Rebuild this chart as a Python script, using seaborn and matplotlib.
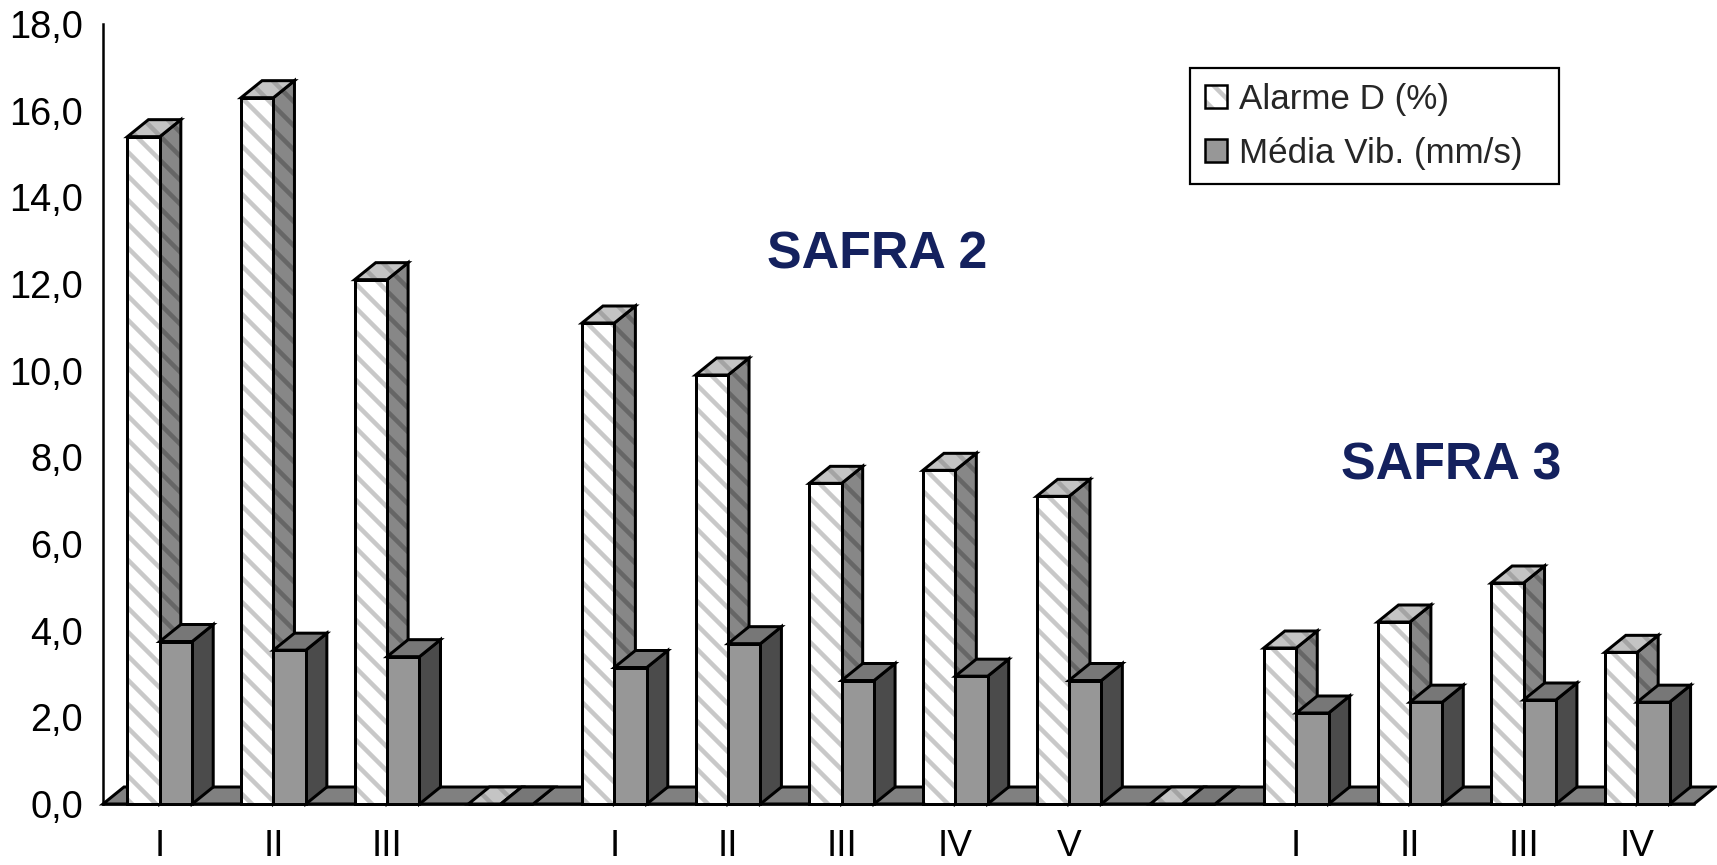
import matplotlib
matplotlib.use("Agg")
import matplotlib.pyplot as plt
from matplotlib.patches import Polygon, Patch
from matplotlib.legend_handler import HandlerTuple
from matplotlib.ticker import FixedLocator, FuncFormatter
import numpy as np
import pandas as pd
import seaborn as sns

# ---- data -------------------------------------------------------------
# three harvests (safras) separated by an empty slot
slot_keys = ["S1-I", "S1-II", "S1-III", "gap1",
             "S2-I", "S2-II", "S2-III", "S2-IV", "S2-V", "gap2",
             "S3-I", "S3-II", "S3-III", "S3-IV"]
slot_labels = ["I", "II", "III", "", "I", "II", "III", "IV", "V", "",
               "I", "II", "III", "IV"]
alarme_d = [15.4, 16.3, 12.1, 0.0, 11.1, 9.9, 7.4, 7.7, 7.1, 0.0,
            3.6, 4.2, 5.1, 3.5]
media_vib = [3.75, 3.55, 3.4, 0.0, 3.15, 3.7, 2.85, 2.95, 2.85, 0.0,
             2.1, 2.35, 2.4, 2.35]
series_names = ["Alarme D (%)", "Média Vib. (mm/s)"]
y_ticks = [0, 2, 4, 6, 8, 10, 12, 14, 16, 18]
group_titles = ["SAFRA 2", "SAFRA 3"]

# ---- style ------------------------------------------------------------
sns.set_style("white")
plt.rcParams["font.family"] = ["Liberation Sans", "DejaVu Sans"]
HATCH_LW = 4.5
plt.rcParams["hatch.linewidth"] = HATCH_LW

# (base colour, stripe colour) for each face of the pseudo-3D columns
face_styles = {
    "Alarme D (%)": {"front": ("#ffffff", "#c8c8c8"),
                     "side": ("#878787", "#666666"),
                     "top": ("#c4c4c4", "#a4a4a4"),
                     "hatch": "\\"},
    "Média Vib. (mm/s)": {"front": ("#979797", None),
                          "side": ("#4b4b4b", None),
                          "top": ("#777777", None),
                          "hatch": None},
}
FLOOR_COLOR = "#808080"
OUTLINE = 3.0
TITLE_COLOR = "#14215e"

DPI = 72
W, H = 1717, 865
fig = plt.figure(figsize=(W / DPI, H / DPI), dpi=DPI)
ax = fig.add_axes([103 / W, 61 / H, (1694 - 103) / W, (804 - 24) / H])

df = pd.DataFrame({
    "slot": slot_keys * 2,
    "valor": alarme_d + media_vib,
    "serie": [series_names[0]] * len(slot_keys) + [series_names[1]] * len(slot_keys),
})

sns.barplot(data=df, x="slot", y="valor", hue="serie", order=slot_keys,
            hue_order=series_names, width=0.57, gap=0, errorbar=None,
            legend=False, saturation=1, linewidth=0,
            palette=[face_styles[s]["front"][0] for s in series_names], ax=ax)

ax.set_xlim(-0.5, len(slot_keys) - 0.5)
ax.set_ylim(0, 18)

# depth offset of the oblique projection, expressed in data units
p0 = ax.transData.transform((0, 0))
p1 = ax.transData.transform((1, 1))
DX = 21 / (p1[0] - p0[0])
DY = 17 / (p1[1] - p0[1])


def set_stripes(patch, stripe, hatch):
    patch.set_edgecolor(stripe)
    patch.set_hatch(hatch)
    if hasattr(patch, "set_hatch_linewidth"):
        patch.set_hatch_linewidth(HATCH_LW)


def draw_face(verts, base, stripe, hatch, z):
    fill = Polygon(verts, closed=True, facecolor=base, linewidth=0,
                   zorder=z, clip_on=False)
    if stripe is not None and hatch:
        set_stripes(fill, stripe, hatch)
        fill.set_linewidth(0)
    ax.add_patch(fill)
    ax.add_patch(Polygon(verts, closed=True, fill=False, edgecolor="black",
                         linewidth=OUTLINE, joinstyle="miter", zorder=z,
                         clip_on=False))


# floor of the chart
x_lo, x_hi = ax.get_xlim()
draw_face([(x_lo, 0), (x_hi, 0), (x_hi + DX, DY), (x_lo + DX, DY)],
          FLOOR_COLOR, None, None, 1)

# side and top faces from the bars that seaborn placed
for k, (name, container) in enumerate(zip(series_names, ax.containers)):
    st = face_styles[name]
    z_back = 2 + 2 * k
    z_front = 3 + 2 * k
    for rect in container:
        x0, w, h = rect.get_x(), rect.get_width(), rect.get_height()
        x1 = x0 + w
        draw_face([(x1, 0), (x1 + DX, DY), (x1 + DX, h + DY), (x1, h)],
                  *st["side"], st["hatch"], z_back)
        draw_face([(x0, h), (x1, h), (x1 + DX, h + DY), (x0 + DX, h + DY)],
                  *st["top"], st["hatch"], z_back)
        base, stripe = st["front"]
        rect.set_facecolor(base)
        if stripe is not None:
            set_stripes(rect, stripe, st["hatch"])
        rect.set_linewidth(0)
        rect.set_zorder(z_front)
        ax.add_patch(Polygon([(x0, 0), (x1, 0), (x1, h), (x0, h)], closed=True,
                             fill=False, edgecolor="black", linewidth=OUTLINE,
                             joinstyle="miter", zorder=z_front, clip_on=False))

# ---- axes -------------------------------------------------------------
for side in ("top", "right"):
    ax.spines[side].set_visible(False)
for side in ("left", "bottom"):
    ax.spines[side].set_color("black")
    ax.spines[side].set_linewidth(2.5)
    ax.spines[side].set_zorder(6)

ax.yaxis.set_major_locator(FixedLocator(y_ticks))
ax.yaxis.set_major_formatter(FuncFormatter(lambda v, _: f"{v:.1f}".replace(".", ",")))
ax.tick_params(axis="y", direction="out", length=8, width=2.5, pad=12,
               labelsize=38, colors="black")

ax.set_xticks(range(len(slot_keys)))
ax.set_xticklabels(slot_labels)
ax.set_xticks(np.arange(-0.5, len(slot_keys), 1.0), minor=True)
ax.tick_params(axis="x", which="major", length=0, pad=25, labelsize=37,
               colors="black")
ax.tick_params(axis="x", which="minor", direction="out", length=8, width=2.5,
               colors="black")
ax.set_xlabel("")
ax.set_ylabel("")
ax.grid(False)

# group titles
ax.text(6.31, 12.35, group_titles[0], fontsize=52, fontweight="bold",
        color=TITLE_COLOR, ha="center", va="baseline", zorder=7)
ax.text(11.36, 7.48, group_titles[1], fontsize=52, fontweight="bold",
        color=TITLE_COLOR, ha="center", va="baseline", zorder=7)

# legend with hatched swatches and black borders
handles = []
for name in series_names:
    st = face_styles[name]
    base, stripe = st["front"]
    swatch = Patch(facecolor=base, linewidth=0)
    if stripe is not None:
        set_stripes(swatch, stripe, st["hatch"])
        swatch.set_linewidth(0)
    border = Patch(fill=False, edgecolor="black", linewidth=2.5)
    handles.append((swatch, border))

FS = 35
leg = ax.legend(handles, series_names,
                handler_map={tuple: HandlerTuple(ndivide=1, pad=0)},
                loc="upper left",
                bbox_to_anchor=(1190 / W, 1 - 194 / H, (1559 - 1190) / W, (194 - 68) / H),
                bbox_transform=fig.transFigure, mode="expand", borderaxespad=0,
                fontsize=FS, handlelength=22 / FS, handleheight=22 / FS,
                handletextpad=0.34, borderpad=0.42, labelspacing=0.6,
                fancybox=False, shadow=False, framealpha=1)
leg.get_frame().set_edgecolor("black")
leg.get_frame().set_linewidth(2.2)
leg.set_zorder(8)

fig.savefig("out.png", dpi=DPI)
